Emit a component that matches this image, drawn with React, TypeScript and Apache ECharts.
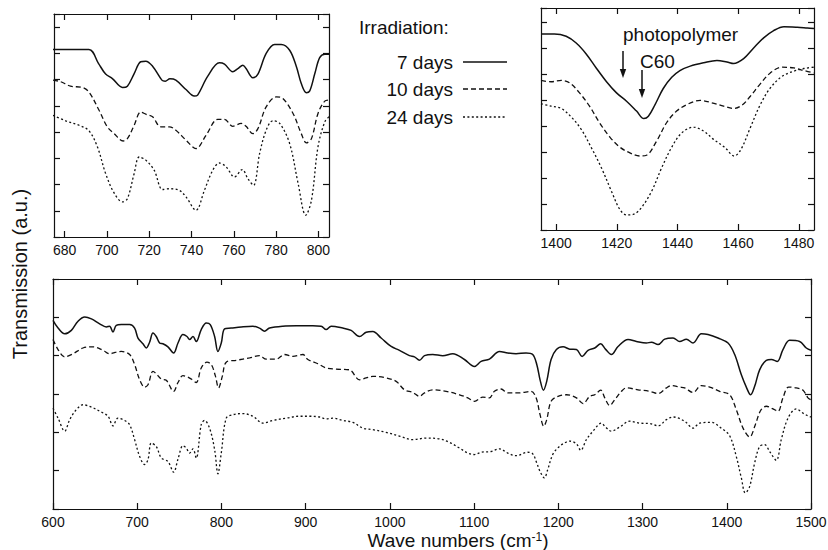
import React, { useEffect, useRef } from 'react';
import * as echarts from 'echarts';

// ---------- tick labels ----------
const tlTicks = [680, 700, 720, 740, 760, 780, 800];
const trTicks = [1400, 1420, 1440, 1460, 1480];
const seriesNames = ['7 days', '10 days', '24 days'];

// ---------- top-left panel (675-805 cm-1) ----------
const tl7 = [[674.5,7.15],[691.5,7.15],[696,6.62],[699.4,6.21],[702.6,6.04],[707.4,5.70],[709.7,5.75],[712.9,6.23],[716,6.68],[718.4,6.70],[721.6,6.51],[726,5.98],[727.6,5.94],[729.8,6.03],[732.6,5.98],[737.4,5.62],[741.3,5.37],[742.9,5.41],[747.7,6.13],[753.2,6.64],[755.6,6.59],[759.5,6.30],[761.9,6.42],[764.3,6.55],[765.8,6.42],[769,6.07],[771.4,6.21],[775.3,7.0],[779.3,7.34],[782.4,7.34],[786.4,7.12],[789.6,6.49],[791.9,5.85],[794.3,5.50],[795.9,5.57],[798.3,6.23],[800.6,6.84],[803,6.97],[805,6.97]];
const tl10 = [[674.5,5.98],[678.1,5.92],[682.8,5.75],[688.4,5.70],[691.5,5.53],[696.3,4.83],[700.2,4.20],[703.4,3.94],[707.7,3.66],[709.7,3.75],[712.9,4.26],[716,4.76],[718.4,4.68],[721.6,4.58],[725.5,4.20],[729.5,4.20],[732.6,4.07],[737.4,3.69],[742.1,3.37],[746.9,3.88],[752.4,4.48],[755.6,4.48],[759.5,4.22],[763.5,4.33],[765.8,4.22],[769,3.94],[771.4,4.13],[775.3,4.96],[780.1,5.34],[783.2,5.28],[788,4.71],[791.9,3.94],[794.3,3.59],[796.7,3.75],[799.8,4.71],[803,5.18],[805,5.22]];
const tl24 = [[674.5,4.64],[680.5,4.43],[686.8,4.26],[691.5,4.05],[695.5,3.44],[699.4,2.42],[703.4,1.68],[707.4,1.34],[709.7,1.46],[712.9,2.42],[715.3,3.05],[718.4,2.93],[722.4,2.54],[726.3,1.81],[729.5,1.84],[734.2,1.78],[737.4,1.53],[742.1,1.02],[746.1,1.78],[750,2.54],[753.2,2.82],[756.4,2.67],[760.3,2.29],[764,2.57],[766.6,2.23],[769.3,1.97],[772.2,3.18],[775.3,4.07],[778.5,4.43],[781.7,4.33],[786.4,3.56],[790.4,2.04],[794,0.83],[796.7,1.40],[799.8,3.44],[803,4.39],[805,4.58]];

// ---------- top-right panel (1395-1485 cm-1) ----------
const tr7 = [[1395,7.55],[1399.4,7.55],[1403.3,7.46],[1406.6,7.2],[1409.9,6.78],[1413.2,6.24],[1416.6,5.71],[1419.9,5.28],[1423.2,4.96],[1426.5,4.58],[1428.9,4.29],[1430.4,4.38],[1432.6,4.83],[1435.3,5.45],[1438.1,5.88],[1440.8,6.14],[1444.2,6.31],[1448.6,6.44],[1453,6.53],[1456.3,6.47],[1458.5,6.41],[1461.8,6.60],[1465.1,7.01],[1468.4,7.40],[1471.7,7.68],[1475.1,7.83],[1479.5,7.81],[1482.8,7.78],[1485,7.76]];
const tr10 = [[1395,5.76],[1398.3,5.71],[1401.7,5.76],[1404.4,5.67],[1407.7,5.28],[1411,4.77],[1414.3,4.13],[1417.7,3.58],[1421,3.19],[1424.3,2.97],[1427.6,2.85],[1429.8,2.88],[1433.1,3.42],[1436.4,4.13],[1439.7,4.58],[1443.6,4.86],[1447.5,4.99],[1451.3,4.90],[1455.2,4.77],[1458.5,4.68],[1461.3,4.81],[1464,5.15],[1467.3,5.63],[1470.6,6.05],[1474.5,6.27],[1478.4,6.24],[1481.7,6.14],[1485,6.05]];
const tr24 = [[1395,4.86],[1398.3,4.77],[1401.7,4.68],[1405,4.35],[1408.3,3.87],[1411.6,3.17],[1414.9,2.40],[1418.2,1.50],[1421,0.79],[1423.2,0.58],[1425.4,0.60],[1428.1,0.86],[1431.5,1.50],[1434.8,2.40],[1438.1,3.19],[1441.4,3.74],[1445.3,3.96],[1448.6,3.81],[1451.9,3.49],[1455.7,3.17],[1458.7,2.85],[1460.9,3.10],[1464,3.94],[1467.3,4.83],[1470.6,5.47],[1474.5,5.92],[1478.4,6.12],[1481.7,6.22],[1485,6.27]];

// ---------- bottom panel (600-1500 cm-1) ----------
const b7 = [[600,4.92],[606,4.72],[613.9,4.57],[621.8,4.66],[629.7,4.90],[637.7,5.01],[645.6,4.96],[655.4,4.83],[663.3,4.75],[667.2,4.77],[671.2,4.62],[675.1,4.79],[681.1,4.81],[691,4.81],[696.9,4.72],[700.9,4.46],[706.8,4.31],[710.8,4.20],[714.7,4.35],[718.7,4.59],[722.6,4.50],[726.6,4.33],[730.5,4.31],[736.5,4.23],[743.2,4.07],[748.4,4.33],[754.3,4.55],[759.1,4.50],[762.2,4.42],[766.2,4.50],[770.1,4.37],[776,4.68],[782,4.85],[786.7,4.81],[791.9,4.50],[795.8,4.11],[799.8,4.33],[803.7,4.70],[811.6,4.72],[823.5,4.75],[837.3,4.77],[845.2,4.72],[851.2,4.64],[857.1,4.72],[872.9,4.77],[888.8,4.78],[908.5,4.78],[918.4,4.77],[924.3,4.68],[930.3,4.77],[944.1,4.72],[954,4.66],[963.9,4.50],[971.8,4.61],[979.7,4.63],[989.6,4.46],[1001.5,4.24],[1011.4,4.14],[1023.2,4.00],[1029.2,3.97],[1035.1,3.88],[1041.1,4.00],[1050.9,4.03],[1062.8,4.00],[1074.7,4.05],[1088.5,3.90],[1100.4,3.72],[1108.3,3.85],[1118.2,3.91],[1130.1,4.11],[1139.9,4.07],[1149.8,4.05],[1161.7,4.07],[1169.6,4.03],[1174.4,3.77],[1178.3,3.37],[1182.3,3.10],[1186.2,3.33],[1191.4,3.90],[1197.7,4.16],[1205.6,4.23],[1213.6,4.17],[1221.5,4.16],[1228.2,3.98],[1235.3,4.14],[1243.2,4.20],[1250.3,4.31],[1255.9,4.17],[1263,4.03],[1270.9,4.24],[1282.8,4.42],[1292.7,4.37],[1304.5,4.33],[1310.5,4.35],[1318.4,4.29],[1326.3,4.43],[1336.2,4.46],[1344.1,4.37],[1352,4.43],[1359.9,4.33],[1369.8,4.57],[1377.7,4.55],[1389.6,4.46],[1401.5,4.33],[1409.4,4.03],[1417.3,3.50],[1423.2,3.18],[1428.3,2.98],[1433.1,3.20],[1439,3.63],[1446.9,3.88],[1452.9,3.90],[1460,3.85],[1466.7,4.16],[1474.6,4.40],[1486.5,4.37],[1494.4,4.20],[1500,4.14]];
const b10 = [[600,4.42],[606,4.16],[613.9,3.97],[623.8,4.05],[635.6,4.20],[647.5,4.23],[659.4,4.14],[667.2,4.05],[675.1,4.09],[681.1,4.11],[691,4.03],[696.9,3.77],[702.9,3.37],[708.8,3.18],[712.8,3.24],[718.7,3.59],[722.6,3.53],[728.6,3.39],[734.5,3.36],[743.2,3.07],[748.4,3.30],[754.3,3.48],[760.2,3.44],[764.2,3.39],[770.1,3.30],[776,3.68],[782.8,3.83],[787.9,3.77],[792.7,3.48],[796.6,3.16],[801,3.46],[805.7,3.83],[817.6,3.88],[833.4,3.94],[845.2,4.00],[853.2,3.91],[865,3.91],[874.9,4.03],[884.8,3.98],[896.7,4.03],[902.6,3.90],[914.5,3.79],[924.3,3.68],[936.2,3.65],[952,3.63],[963.9,3.37],[971.8,3.42],[979.7,3.46],[995.5,3.42],[1007.4,3.33],[1017.3,3.11],[1027.2,3.04],[1035.1,2.94],[1041.1,3.03],[1050.9,3.11],[1066.8,3.07],[1082.6,2.98],[1092.5,2.90],[1100.4,2.81],[1110.3,2.92],[1118.2,2.90],[1124.1,3.07],[1132,3.13],[1139.9,3.03],[1153.8,3.03],[1167.6,3.07],[1173.6,2.90],[1178.3,2.46],[1182.7,2.16],[1186.2,2.33],[1191.4,2.81],[1199.7,2.94],[1209.6,2.98],[1221.5,2.90],[1229.4,2.75],[1237.3,2.94],[1243.2,2.98],[1250.3,3.10],[1255.1,2.90],[1261,2.70],[1267,2.85],[1274.9,3.07],[1280.8,3.16],[1294.6,3.11],[1308.5,3.07],[1318.4,3.01],[1328.3,3.16],[1334.2,3.22],[1344.1,3.18],[1350,3.16],[1359.9,3.04],[1369.8,3.22],[1379.7,3.18],[1391.6,3.07],[1403.4,2.98],[1411.3,2.59],[1419.3,2.11],[1427.2,1.88],[1433.9,2.20],[1440.2,2.57],[1446.9,2.68],[1454.9,2.61],[1460.8,2.55],[1466.7,2.90],[1473.5,3.18],[1482.5,3.16],[1490.5,3.10],[1496.4,2.90],[1500,2.85]];
const b24 = [[600,2.63],[606,2.37],[613.9,2.03],[619.8,2.33],[627.7,2.59],[635.6,2.72],[645.6,2.66],[655.4,2.55],[665.3,2.42],[671.2,2.17],[677.1,2.37],[685,2.31],[691,2.20],[696.9,1.81],[702.9,1.37],[708.8,1.16],[712.8,1.29],[716.7,1.72],[722.6,1.63],[728.6,1.33],[736.5,1.24],[743.2,0.96],[748.4,1.30],[754.3,1.65],[758.2,1.59],[762.2,1.46],[766.2,1.57],[770.1,1.33],[776,2.20],[780,2.31],[785.9,2.11],[791.9,1.55],[795.8,0.92],[799.8,1.46],[805.7,2.37],[813.6,2.46],[825.5,2.49],[837.3,2.42],[849.2,2.24],[861.1,2.31],[876.9,2.37],[892.7,2.42],[904.6,2.42],[916.4,2.40],[924.3,2.35],[932.3,2.37],[944.1,2.31],[956,2.26],[967.9,2.11],[979.7,2.07],[995.5,2.00],[1011.4,1.90],[1027.2,1.81],[1043,1.85],[1058.8,1.83],[1070.7,1.74],[1082.6,1.59],[1092.5,1.46],[1100.4,1.42],[1108.3,1.48],[1120.2,1.50],[1130.1,1.57],[1139.9,1.46],[1149.8,1.39],[1163.7,1.48],[1169.6,1.44],[1174.4,1.20],[1178.3,0.98],[1183.4,0.81],[1187.4,1.03],[1193.3,1.42],[1199.3,1.59],[1205.6,1.70],[1213.6,1.77],[1221.5,1.70],[1226.6,1.53],[1233.3,1.81],[1241.2,2.03],[1251.1,2.24],[1255.9,2.14],[1263,2.03],[1272.9,2.14],[1284.8,2.29],[1296.6,2.24],[1308.5,2.23],[1318.4,2.17],[1328.3,2.33],[1336.2,2.40],[1350,2.29],[1359.9,2.11],[1367.8,2.24],[1381.6,2.26],[1393.5,2.11],[1403.4,1.91],[1411.3,1.37],[1417.3,0.81],[1422,0.42],[1427.2,0.59],[1433.1,1.20],[1439,1.63],[1444.9,1.68],[1450.9,1.50],[1458.8,1.27],[1464.7,1.81],[1472.7,2.37],[1482.5,2.61],[1490.5,2.50],[1496.4,2.43],[1500,2.40]];

const FONT = '"Liberation Sans", Arial, Helvetica, sans-serif';
const INK = '#111';
const lineTypes: any[] = ['solid', [5, 3], [2, 2.4]];
const lineWidths = [1.5, 1.3, 1.3];

function xAxisDef(grid: number, min: number, max: number, top: boolean, ticks?: number[], interval?: number) {
  const ax: any = {
    type: 'value', gridIndex: grid, min, max, position: top ? 'top' : 'bottom',
    axisLine: { show: true, onZero: false, lineStyle: { color: INK, width: 1.2 } },
    axisTick: { show: true, inside: true, length: 6, lineStyle: { color: INK, width: 1.2 } },
    axisLabel: { show: !top, color: INK, fontSize: 14, lineHeight: 14, fontFamily: FONT, margin: 6, formatter: (v: number) => String(v) },
    splitLine: { show: false },
  };
  if (ticks) {
    ax.axisTick.customValues = ticks;
    ax.axisLabel.customValues = ticks;
  }
  if (interval) ax.interval = interval;
  return ax;
}

function yAxisDef(grid: number, max: number, right: boolean) {
  return {
    type: 'value', gridIndex: grid, min: 0, max, interval: 1, position: right ? 'right' : 'left',
    axisLine: { show: true, onZero: false, lineStyle: { color: INK, width: 1.2 } },
    axisTick: { show: true, inside: true, length: 6, lineStyle: { color: INK, width: 1.2 } },
    axisLabel: { show: false },
    splitLine: { show: false },
  };
}

function lineSeries(data: number[][], k: number, idx: number) {
  return {
    type: 'line', name: seriesNames[k], data, xAxisIndex: idx, yAxisIndex: idx,
    showSymbol: false, smooth: 0.35, silent: true,
    lineStyle: { color: INK, width: lineWidths[k], type: lineTypes[k] },
  };
}

function arrow(x: number, y1: number, y2: number) {
  return [
    { type: 'line', shape: { x1: x, y1, x2: x, y2: y2 - 6 }, style: { stroke: INK, lineWidth: 1.5 } },
    { type: 'polygon', shape: { points: [[x - 3.2, y2 - 9], [x + 3.2, y2 - 9], [x, y2]] }, style: { fill: INK } },
  ];
}

const legendRows = [62, 89, 117];

export default function App() {
  const ref = useRef<HTMLDivElement>(null);
  useEffect(() => {
    const chart = echarts.init(ref.current!, null, { renderer: 'svg' });
    const option: any = {
      animation: false,
      backgroundColor: '#fff',
      grid: [
        { left: 54, top: 14, width: 275, height: 223, containLabel: false, outerBoundsMode: 'none' },
        { left: 541, top: 8, width: 273, height: 222, containLabel: false, outerBoundsMode: 'none' },
        { left: 53, top: 279, width: 758, height: 230, containLabel: false, outerBoundsMode: 'none' },
      ],
      xAxis: [
        xAxisDef(0, 675, 805, false, tlTicks),
        xAxisDef(1, 1395, 1485, false, trTicks),
        xAxisDef(2, 600, 1500, false, undefined, 100),
        xAxisDef(0, 675, 805, true, tlTicks),
        xAxisDef(1, 1395, 1485, true, trTicks),
        xAxisDef(2, 600, 1500, true, undefined, 100),
      ],
      yAxis: [
        yAxisDef(0, 8.5, false),
        yAxisDef(1, 8.55, false),
        yAxisDef(2, 6, false),
        yAxisDef(0, 8.5, true),
        yAxisDef(1, 8.55, true),
        yAxisDef(2, 6, true),
      ],
      series: [
        lineSeries(tl7, 0, 0), lineSeries(tl10, 1, 0), lineSeries(tl24, 2, 0),
        lineSeries(tr7, 0, 1), lineSeries(tr10, 1, 1), lineSeries(tr24, 2, 1),
        lineSeries(b7, 0, 2), lineSeries(b10, 1, 2), lineSeries(b24, 2, 2),
      ],
      graphic: [
        {
          type: 'text', x: 20, y: 274, rotation: Math.PI / 2,
          style: { text: 'Transmission (a.u.)', fontSize: 20, fontFamily: FONT, fill: INK, align: 'center', verticalAlign: 'middle' },
        },
        {
          type: 'text', x: 458, y: 540,
          style: {
            text: '{a|Wave numbers (cm}{s|-1}{a|)}', align: 'center', verticalAlign: 'middle',
            rich: {
              a: { fontSize: 19, fontFamily: FONT, fill: INK, lineHeight: 18 },
              s: { fontSize: 12, fontFamily: FONT, fill: INK, verticalAlign: 'top', lineHeight: 18 },
            },
          },
        },
        {
          type: 'text', x: 359, y: 27,
          style: { text: 'Irradiation:', fontSize: 19, fontFamily: FONT, fill: INK, align: 'left', verticalAlign: 'middle' },
        },
        ...seriesNames.map((n, k) => ({
          type: 'text', x: 453, y: legendRows[k],
          style: { text: n, fontSize: 19, fontFamily: FONT, fill: INK, align: 'right', verticalAlign: 'middle' },
        })),
        ...seriesNames.map((n, k) => ({
          type: 'line', shape: { x1: 463, y1: legendRows[k], x2: 507, y2: legendRows[k] },
          style: { stroke: INK, lineWidth: lineWidths[k], lineDash: k === 0 ? null : lineTypes[k] },
        })),
        {
          type: 'text', x: 623, y: 34,
          style: { text: 'photopolymer', fontSize: 19, fontFamily: FONT, fill: INK, align: 'left', verticalAlign: 'middle' },
        },
        {
          type: 'text', x: 640, y: 61,
          style: { text: 'C60', fontSize: 19, fontFamily: FONT, fill: INK, align: 'left', verticalAlign: 'middle' },
        },
        ...arrow(623, 51, 78),
        ...arrow(642, 70, 98),
      ],
    };
    chart.setOption(option);
    return () => chart.dispose();
  }, []);
  return <div ref={ref} style={{ position: 'fixed', left: 0, top: 0, width: 828, height: 550, background: '#fff' }} />;
}
